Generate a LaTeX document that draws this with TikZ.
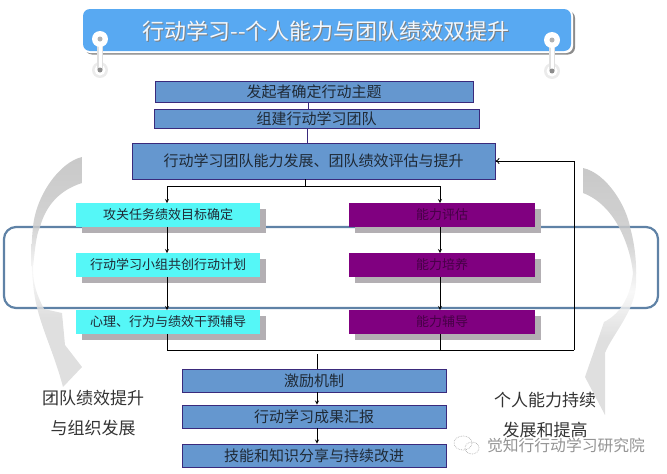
\documentclass[tikz,border=0pt]{standalone}
\usepackage{fontspec}
\setmainfont{Noto Sans CJK SC}
\usetikzlibrary{arrows.meta}
\definecolor{titleblue}{HTML}{58A9F2}
\definecolor{panelblue}{HTML}{5F82A6}
\definecolor{stepblue}{HTML}{6597CF}
\definecolor{stepedge}{HTML}{3A2A7C}
\definecolor{taskcyan}{HTML}{55F7F7}
\definecolor{abilitypurple}{HTML}{800080}
\definecolor{shadowgrey}{HTML}{B3AFB3}
\definecolor{textdark}{HTML}{1F2A36}
\pgfdeclareverticalshading{swooshfade}{100bp}{
  color(0bp)=(black!15); color(25bp)=(black!15); color(40bp)=(black!15);
  color(50bp)=(black!3); color(60bp)=(black!20); color(75bp)=(black!25); color(100bp)=(black!25)}

\begin{document}
\begin{tikzpicture}[x=1pt,y=-1pt,>=stealth,line cap=butt]
  \tikzstyle{stepbox}=[draw=stepedge, fill=stepblue, line width=0.9pt, inner sep=0pt, text=textdark, font=\fontsize{15}{15}\selectfont]
  \tikzstyle{shadowed}=[inner sep=0pt, minimum height=23.5pt, font=\fontsize{13}{13}\selectfont]
  \tikzstyle{taskbox}=[shadowed, fill=taskcyan, text=textdark, minimum width=184pt]
  \tikzstyle{abilitybox}=[shadowed, fill=abilitypurple, text=abilitypurple!55!black, minimum width=186pt]
  \tikzstyle{sidelabel}=[font=\fontsize{17}{17}\selectfont, text=black!80, inner sep=0pt]
  \tikzstyle{flow}=[draw=black, line width=0.8pt]
  \tikzstyle{swoosh}=[shading=swooshfade, fill opacity=0.85]
  \useasboundingbox (0,0) rectangle (667,474);

  % blue panel and the two grey arrows
  \draw[panelblue, line width=2.2pt, rounded corners=12pt] (4,227) rectangle (658,308);
  \shade[swoosh] (82,157) .. controls (60,162) and (36,195) .. (33,227)
    .. controls (31,245) and (31,265) .. (33,283)
    .. controls (36,320) and (52,345) .. (63,387) -- (82,367) -- (65,345) -- (62,313) -- (44,309)
    .. controls (37,295) and (33,285) .. (33,267)
    .. controls (35,250) and (36,235) .. (40,227)
    .. controls (46,205) and (60,190) .. (82,183) -- cycle;
  \shade[swoosh] (583,168) .. controls (606,173) and (626,205) .. (630,227)
    .. controls (635,245) and (637,265) .. (636,283)
    .. controls (636,310) and (612,335) .. (605,353) -- (605,415) -- (585,377) -- (604,322)
    .. controls (618,315) and (630,300) .. (633,273)
    .. controls (630,245) and (615,205) .. (583,193) -- cycle;

  % title bar
  \fill[black!45, rounded corners=7pt] (85,11) rectangle (575,54.5);
  \fill[white, rounded corners=7pt] (83,9) rectangle (573,53);
  \fill[titleblue, rounded corners=7pt] (83,9) rectangle (571,51);
  \foreach \x/\y in {100/39,552/40} {
    \fill[black!8] (\x,\y+31) circle (8pt);
    \fill[white] (\x,\y+31) circle (5.5pt);
    \fill[black!12] (\x-3,\y) rectangle (\x+3,\y+31);
    \fill[white] (\x-1.5,\y) rectangle (\x+1.5,\y+31);
    \fill[black!45] (\x,\y+31) circle (2.5pt);
    \fill[white] (\x,\y) circle (8pt);
    \fill[black!30] (\x,\y) circle (2.5pt);
  }
  \node[font=\fontsize{22}{22}\selectfont, text=black!50, inner sep=0pt] (titleshade) at (326.8,32.3) {行动学习{-}{-}个人能力与团队绩效双提升};
  \node[font=\fontsize{22}{22}\selectfont, text=white!92!titleblue, inner sep=0pt] (titletext) at (326,31.5) {行动学习{-}{-}个人能力与团队绩效双提升};

  % shadows of the two columns
  \foreach \y in {215,265,322} {
    \fill[shadowgrey] (82,\y-6) rectangle (266,\y+17.5);
    \fill[shadowgrey] (355,\y-6) rectangle (541,\y+17.5);
  }

  \foreach \name/\cx/\cy/\w/\h/\txt in {
    theme/314/92/318/20.5/发起者确定行动主题,
    team/316.5/118.5/325/19/组建行动学习团队,
    develop/313.5/161/363/36/行动学习团队能力发展、团队绩效评估与提升,
    incentive/314/380.5/264/23/激励机制,
    report/314/416.5/264/23/行动学习成果汇报,
    share/314/455.5/264/23/技能和知识分享与持续改进
  } {
    \node[stepbox, minimum width=\w pt, minimum height=\h pt] (\name) at (\cx,\cy) {\txt};
  }
  \node[taskbox] (goal) at (168,215) {攻关任务绩效目标确定};
  \node[taskbox] (plan) at (168,265) {行动学习小组共创行动计划};
  \node[taskbox] (coach) at (168,322) {心理、行为与绩效干预辅导};
  \node[abilitybox] (assess) at (442,215) {能力评估};
  \node[abilitybox] (train) at (442,265) {能力培养};
  \node[abilitybox] (tutor) at (442,322) {能力辅导};

  % connectors
  \coordinate (themeout) at (308,102);
  \coordinate (teamout) at (307.5,128);
  \coordinate (developout) at (305,179);
  \coordinate (forkleft) at (167,186);
  \coordinate (forkright) at (440,186);
  \coordinate (loopcorner) at (574,350);
  \coordinate (incentivein) at (317,354);
  \draw[flow, draw=stepedge] (themeout) -- (themeout |- team.north);
  \draw[flow, draw=stepedge] (teamout) -- (teamout |- develop.north);
  \draw[flow] (developout) -- (developout |- forkleft);
  \draw[flow, ->] (forkleft -| developout) -- (forkleft) -- (forkleft |- goal.north);
  \draw[flow, ->] (forkright -| developout) -- (forkright) -- (forkright |- assess.north);
  \draw[flow, ->] (forkleft |- goal.south) -- (forkleft |- plan.north);
  \draw[flow, ->] (forkleft |- plan.south) -- (forkleft |- coach.north);
  \draw[flow, ->] (forkright |- assess.south) -- (forkright |- train.north);
  \draw[flow, ->] (forkright |- train.south) -- (forkright |- tutor.north);
  \draw[flow] (forkleft |- coach.south) |- (loopcorner);
  \draw[flow] (forkright |- tutor.south) -- (forkright |- loopcorner);
  \draw[flow, -{To[length=4pt,width=6pt]}] (loopcorner) |- (develop.east);
  \draw[flow] (incentivein) -- (incentivein |- incentive.north);
  \draw[flow, ->] (incentivein |- incentive.south) -- (incentivein |- report.north);
  \draw[flow, ->] (incentivein |- report.south) -- (incentivein |- share.north);

  % side labels
  \node[sidelabel] (teamgoal) at (93,398) {团队绩效提升};
  \node[sidelabel] (teamorg) at (93,428) {与组织发展};
  \node[sidelabel] (selfgoal) at (545,400) {个人能力持续};
  \node[sidelabel] (selfup) at (545,430) {发展和提高};

  % watermark
  \draw[black!30, densely dotted, line width=0.7pt] (463,443) ellipse (9pt and 7pt);
  \draw[black!30, densely dotted, line width=0.7pt] (472,448) ellipse (7pt and 6pt);
  \node[font=\fontsize{15.8}{15.8}\selectfont, text=black!42, inner sep=0pt] (mark) at (566,445) {觉知行行动学习研究院};
\end{tikzpicture}
\end{document}
